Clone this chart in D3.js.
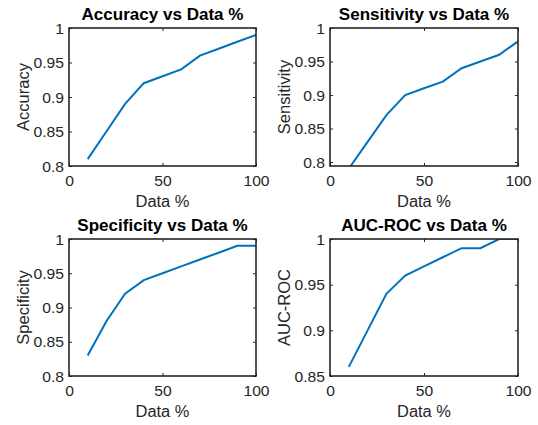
<!DOCTYPE html>
<html>
<head>
<meta charset="utf-8">
<script src="https://cdn.jsdelivr.net/npm/d3@7"></script>
<style>
  body { margin: 0; background: #fff; }
  text { font-family: "Liberation Sans", Arial, sans-serif; fill: #262626; }
</style>
</head>
<body>
<script>
// data
var dataPct = [10, 20, 30, 40, 50, 60, 70, 80, 90, 100];
var accuracy = [0.81, 0.85, 0.89, 0.92, 0.93, 0.94, 0.96, 0.97, 0.98, 0.99];
var sensitivity = [0.79, 0.83, 0.87, 0.90, 0.91, 0.92, 0.94, 0.95, 0.96, 0.98];
var specificity = [0.83, 0.88, 0.92, 0.94, 0.95, 0.96, 0.97, 0.98, 0.99, 0.99];
var aucRoc = [0.86, 0.90, 0.94, 0.96, 0.97, 0.98, 0.99, 0.99, 1.00, 1.00];

var xTicks = [0, 50, 100];
var yTicks80 = [0.8, 0.85, 0.9, 0.95, 1];
var yTicks85 = [0.85, 0.9, 0.95, 1];

var width = 538, height = 425;

var svg = d3.select("body").append("svg")
    .attr("width", width)
    .attr("height", height);

var panels = [
  { title: "Accuracy vs Data %", ylabel: "Accuracy", values: accuracy,
    ydomain: [0.8, 1], yticks: yTicks80, x0: 69, x1: 256, y0: 28, y1: 166 },
  { title: "Sensitivity vs Data %", ylabel: "Sensitivity", values: sensitivity,
    ydomain: [0.794, 1], yticks: yTicks80, x0: 330, x1: 518, y0: 28, y1: 166 },
  { title: "Specificity vs Data %", ylabel: "Specificity", values: specificity,
    ydomain: [0.8, 1], yticks: yTicks80, x0: 69, x1: 256, y0: 239, y1: 376 },
  { title: "AUC-ROC vs Data %", ylabel: "AUC-ROC", values: aucRoc,
    ydomain: [0.85, 1], yticks: yTicks85, x0: 330, x1: 518, y0: 239, y1: 376 }
];

var fmt = function(d) { return String(+d.toFixed(2)); };

panels.forEach(function(p, i) {
  var x = d3.scaleLinear().domain([0, 100]).range([p.x0, p.x1]);
  var y = d3.scaleLinear().domain(p.ydomain).range([p.y1, p.y0]);
  var g = svg.append("g");

  g.append("clipPath").attr("id", "clip" + i)
    .append("rect")
    .attr("x", p.x0).attr("y", p.y0)
    .attr("width", p.x1 - p.x0).attr("height", p.y1 - p.y0);

  // line
  var line = d3.line()
      .x(function(d, j) { return x(dataPct[j]); })
      .y(function(d) { return y(d); });
  g.append("path")
      .datum(p.values)
      .attr("clip-path", "url(#clip" + i + ")")
      .attr("d", line)
      .attr("fill", "none")
      .attr("stroke", "#0072BD")
      .attr("stroke-width", 2);

  // axes, ticks pointing inward (box on, so mirrored top/right)
  var bottom = g.append("g").attr("transform", "translate(0," + p.y1 + ")")
      .call(d3.axisBottom(x).tickValues(xTicks).tickSize(-3).tickFormat(fmt));
  g.append("g").attr("transform", "translate(0," + p.y0 + ")")
      .call(d3.axisTop(x).tickValues(xTicks).tickSize(-3).tickFormat(""));
  var left = g.append("g").attr("transform", "translate(" + p.x0 + ",0)")
      .call(d3.axisLeft(y).tickValues(p.yticks).tickSize(-3).tickFormat(fmt));
  g.append("g").attr("transform", "translate(" + p.x1 + ",0)")
      .call(d3.axisRight(y).tickValues(p.yticks).tickSize(-3).tickFormat(""));

  g.selectAll(".domain").remove();
  g.selectAll(".tick line").attr("stroke", "#262626");

  bottom.selectAll("text")
      .attr("x", 0).attr("y", 0).attr("dy", null)
      .attr("fill", "#262626")
      .style("font-size", "14.5px")
      .attr("transform", "translate(0,20) scale(1.08,1)");
  left.selectAll("text")
      .attr("x", 0).attr("dy", "0.36em")
      .attr("fill", "#262626")
      .style("font-size", "14.5px")
      .attr("transform", "translate(-5,0) scale(1.08,1)");

  // box
  g.append("rect")
      .attr("x", p.x0).attr("y", p.y0)
      .attr("width", p.x1 - p.x0).attr("height", p.y1 - p.y0)
      .attr("fill", "none")
      .attr("stroke", "#262626")
      .attr("stroke-width", 1.6);

  var cx = (p.x0 + p.x1) / 2, cy = (p.y0 + p.y1) / 2;

  g.append("text")
      .attr("text-anchor", "middle")
      .attr("transform", "translate(" + cx + "," + (p.y0 - 8) + ") scale(1.065,1)")
      .style("font-size", "16px")
      .style("font-weight", "bold")
      .style("fill", "#000")
      .text(p.title);

  g.append("text")
      .attr("text-anchor", "middle")
      .attr("transform", "translate(" + cx + "," + (p.y1 + 41) + ") scale(1.03,1)")
      .style("font-size", "16px")
      .text("Data %");

  g.append("text")
      .attr("text-anchor", "middle")
      .attr("transform", "translate(" + (p.x0 - 40) + "," + cy + ") rotate(-90)")
      .style("font-size", "16.5px")
      .text(p.ylabel);
});
</script>
</body>
</html>
